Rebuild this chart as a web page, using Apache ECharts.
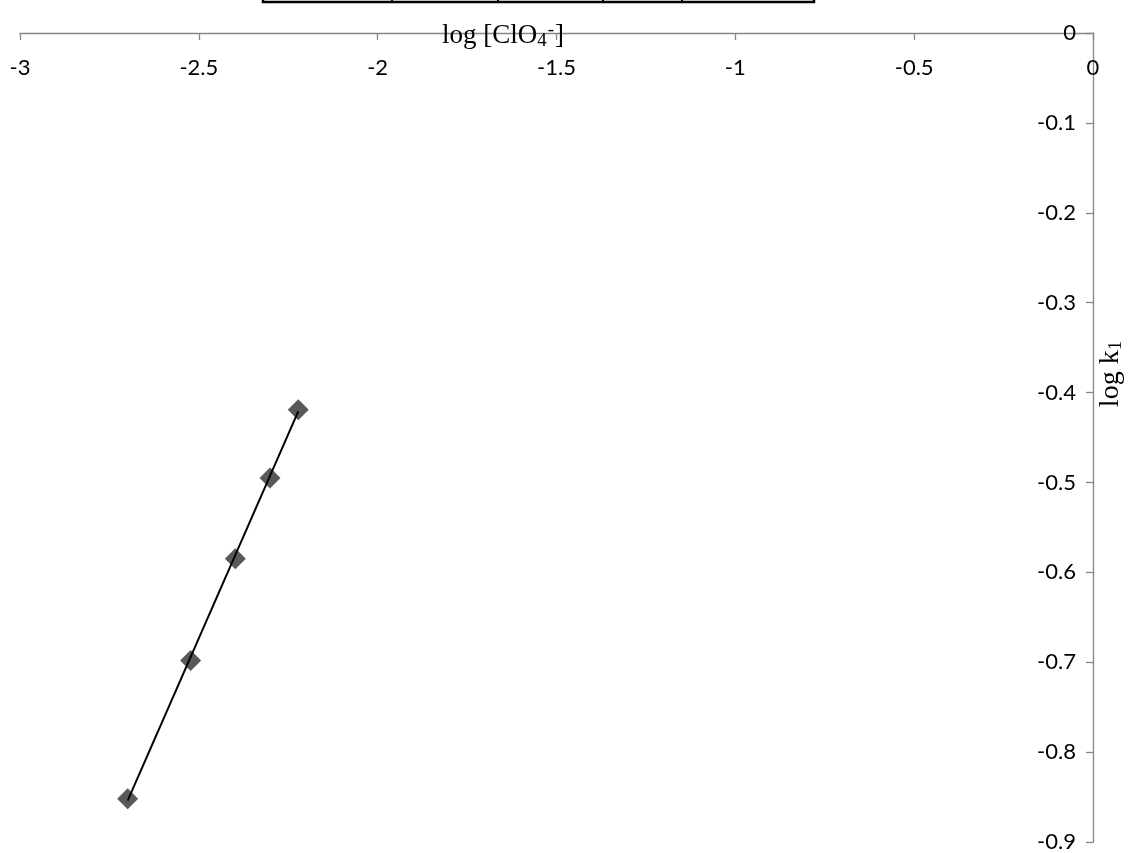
<!DOCTYPE html>
<html>
<head>
<meta charset="utf-8">
<title>log k1 vs log [ClO4-]</title>
<script src="https://cdn.jsdelivr.net/npm/echarts@6/dist/echarts.min.js"></script>
<style>
  html, body { margin: 0; padding: 0; background: #fff; }
  #main { width: 1128px; height: 853px; }
</style>
</head>
<body>
<div id="main"></div>
<script>
// measured points
var logClO4 = [-2.699, -2.523, -2.398, -2.301, -2.222];
var logK1 = [-0.852, -0.698, -0.585, -0.495, -0.419];
// trendline end points
var trendX = [-2.699, -2.222];
var trendY = [-0.854, -0.421];
// axis ranges
var xMin = -3, xMax = 0, xStep = 0.5;
var yMin = -0.9, yMax = 0, yStep = 0.1;

var dom = document.getElementById('main');
var myChart = echarts.init(dom);

var pts = logClO4.map(function (x, i) { return [x, logK1[i]]; });
var trend = trendX.map(function (x, i) { return [x, trendY[i]]; });

var axisGray = '#868686';
var labelFont = 'Lato';
var serif = '"Liberation Serif", "Times New Roman", serif';

option = {
    backgroundColor: '#fff',
    animation: false,
    grid: { left: 20, right: 35, top: 33, bottom: 11, containLabel: false },
    xAxis: {
        type: 'value',
        position: 'top',
        min: xMin, max: xMax, interval: xStep,
        axisLine: { show: true, onZero: false, lineStyle: { color: axisGray, width: 1.3 } },
        axisTick: { show: true, inside: true, length: 7, lineStyle: { color: axisGray, width: 1.3 } },
        axisLabel: { inside: true, margin: 24, color: '#000', fontFamily: labelFont, fontSize: 22,
                     showMinLabel: true, showMaxLabel: true },
        splitLine: { show: false }
    },
    yAxis: {
        type: 'value',
        position: 'right',
        min: yMin, max: yMax, interval: yStep,
        axisLine: { show: true, onZero: false, lineStyle: { color: axisGray, width: 1.3 } },
        axisTick: { show: true, inside: true, length: 7, lineStyle: { color: axisGray, width: 1.3 } },
        axisLabel: { inside: true, margin: 17, color: '#000', fontFamily: labelFont, fontSize: 22,
                     showMinLabel: true, showMaxLabel: true },
        splitLine: { show: false }
    },
    graphic: [
        {
            type: 'polyline',
            shape: { points: [[263, 0], [263, 2], [814, 2], [814, 0]] },
            style: { stroke: '#000', lineWidth: 2.5, fill: null },
            silent: true
        },
        {
            type: 'group',
            children: [392, 498, 603, 682].map(function (x) {
                return { type: 'line', shape: { x1: x, y1: 0, x2: x, y2: 3 },
                         style: { stroke: '#000', lineWidth: 2 }, silent: true };
            })
        },
        {
            type: 'text',
            left: 442, top: 21,
            style: {
                text: '{n|log [ClO}{sub|4}{sup|-}{n|]}',
                rich: {
                    n: { fontFamily: serif, fontSize: 27, fill: '#000', lineHeight: 28 },
                    sub: { fontFamily: serif, fontSize: 19, fill: '#000', padding: [11, 0, 0, 0] },
                    sup: { fontFamily: serif, fontSize: 19, fill: '#000', padding: [0, 1, 11, 1] }
                }
            },
            z: 10
        },
        {
            type: 'text',
            x: 1111, y: 374,
            rotation: Math.PI / 2,
            style: {
                text: '{n|log k}{sub|1}',
                align: 'center', verticalAlign: 'middle',
                rich: {
                    n: { fontFamily: serif, fontSize: 28, fill: '#000', lineHeight: 28 },
                    sub: { fontFamily: serif, fontSize: 19, fill: '#000', padding: [11, 0, 0, 0] }
                }
            },
            z: 10
        }
    ],
    series: [
        {
            name: 'log k1',
            type: 'scatter',
            data: pts,
            symbol: 'diamond',
            symbolSize: 21,
            itemStyle: { color: '#595959', opacity: 1 },
            z: 2
        },
        {
            name: 'trend',
            type: 'line',
            data: trend,
            showSymbol: false,
            symbol: 'none',
            lineStyle: { color: '#000', width: 2 },
            z: 3
        }
    ]
};

if (option && typeof option === "object") {
    myChart.setOption(option, true);
}
</script>
</body>
</html>
